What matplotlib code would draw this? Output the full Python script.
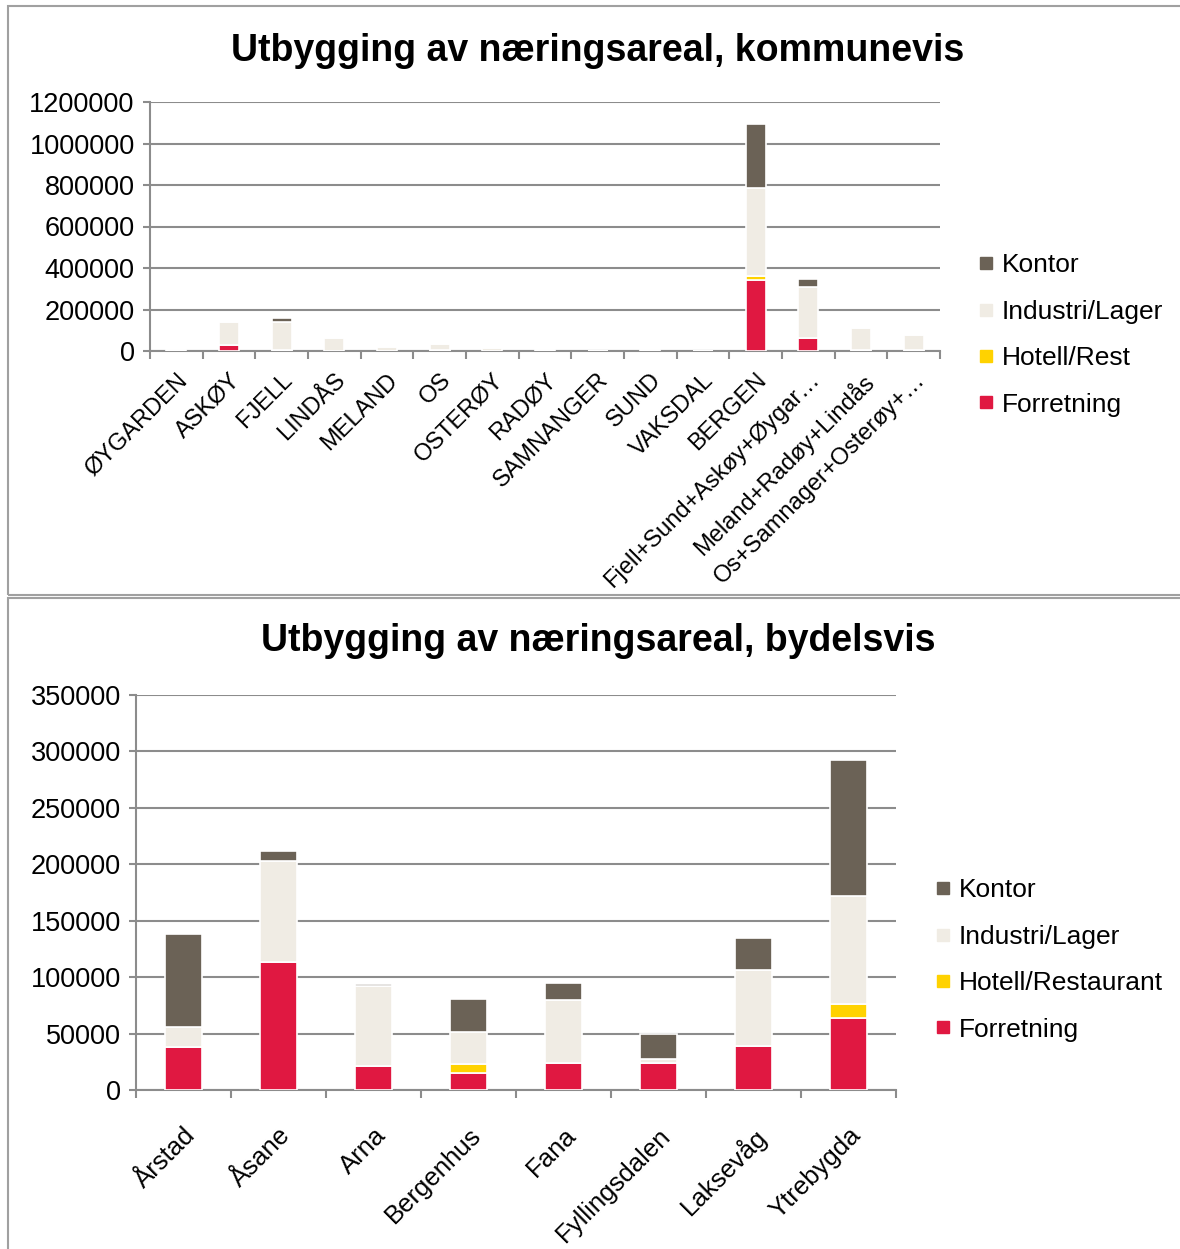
import numpy as np
import matplotlib
matplotlib.use("Agg")
import matplotlib.pyplot as plt
from matplotlib.patches import Rectangle
from matplotlib.lines import Line2D

plt.rcParams['font.family'] = ['Liberation Sans', 'DejaVu Sans']

# --- data: kommunevis ---
kommuner = ['ØYGARDEN', 'ASKØY', 'FJELL', 'LINDÅS', 'MELAND', 'OS', 'OSTERØY',
            'RADØY', 'SAMNANGER', 'SUND', 'VAKSDAL', 'BERGEN',
            'Fjell+Sund+Askøy+Øygar…', 'Meland+Radøy+Lindås', 'Os+Samnager+Osterøy+…']
forretning_k = [1000, 28000, 6000, 2000, 1000, 4000, 1000, 500, 300, 1000, 300, 340000, 61000, 7000, 6000]
hotell_k = [0, 0, 0, 0, 0, 0, 0, 0, 0, 0, 0, 20000, 0, 0, 0]
industri_k = [3000, 110000, 132000, 60000, 16000, 31000, 15000, 3000, 2000, 5000, 2000, 425000, 249000, 105000, 69000]
kontor_k = [0, 0, 21000, 3000, 0, 0, 0, 0, 0, 0, 0, 309000, 37000, 4000, 0]

# --- data: bydelsvis ---
bydeler = ['Årstad', 'Åsane', 'Arna', 'Bergenhus', 'Fana', 'Fyllingsdalen', 'Laksevåg', 'Ytrebygda']
forretning_b = [38000, 113000, 21500, 15000, 24000, 23500, 39000, 63500]
hotell_b = [0, 0, 0, 8000, 0, 0, 0, 12500]
industri_b = [18000, 90000, 71000, 28000, 56000, 4000, 67000, 96000]
kontor_b = [82000, 9000, 1500, 30000, 14500, 22000, 29000, 120000]

C_KONTOR = '#6b6256'
C_IND = '#f0ece4'
C_HOT = '#ffd200'
C_FORR = '#e01841'
GRID = '#8c8c8c'

W, H = 1180, 1249
fig = plt.figure(figsize=(W / 100, H / 100), dpi=100)

# panel borders
for (y0, y1) in [(6, 595), (598, 1258)]:
    fig.add_artist(Rectangle((8 / W, 1 - y1 / H), (1190 - 8) / W, (y1 - y0) / H,
                             transform=fig.transFigure, fill=False,
                             edgecolor='#a0a0a0', linewidth=1.5))


def draw_panel(rect, cats, series, ymax, ystep, lab_pad, lab_size, hotell_label,
               title, title_y, legend_xy):
    ax = fig.add_axes(rect)
    x = np.arange(len(cats))
    bottom = np.zeros(len(cats))
    colors = [C_FORR, C_HOT, C_IND, C_KONTOR]
    for vals, col in zip(series, colors):
        ax.bar(x, vals, 0.38, bottom=bottom, color=col, edgecolor='white',
               linewidth=1.2, zorder=3)
        bottom += np.array(vals)
    ax.set_xlim(-0.5, len(cats) - 0.5)
    ax.set_ylim(0, ymax)
    ax.set_yticks(np.arange(0, ymax + 1, ystep))
    ax.yaxis.grid(True, color=GRID, linewidth=1.5, zorder=0)
    for s in ['top', 'right']:
        ax.spines[s].set_visible(False)
    for s in ['left', 'bottom']:
        ax.spines[s].set_color(GRID)
        ax.spines[s].set_linewidth(1.5)
    ax.tick_params(axis='y', length=5, width=1.5, color=GRID, labelsize=19.5, pad=6)
    ax.set_xticks(x)
    ax.set_xticks(np.arange(-0.5, len(cats)), minor=True)
    ax.tick_params(axis='x', which='major', length=0, pad=lab_pad)
    ax.tick_params(axis='x', which='minor', length=6, width=1.5, color=GRID)
    ax.set_xticklabels(cats, rotation=45, ha='right', va='top',
                       rotation_mode='anchor', fontsize=lab_size)
    ax.ticklabel_format(axis='y', style='plain')
    fig.text(598 / W, 1 - title_y / H, title, ha='center', va='center',
             fontsize=27, fontweight='bold')
    labels = ['Kontor', 'Industri/Lager', hotell_label, 'Forretning']
    handles = [Line2D([], [], marker='s', linestyle='none', markersize=8,
                      markerfacecolor=c, markeredgecolor=c)
               for c in [C_KONTOR, C_IND, C_HOT, C_FORR]]
    fig.legend(handles, labels, loc='center left',
               bbox_to_anchor=(legend_xy[0] / W, 1 - legend_xy[1] / H),
               frameon=False, fontsize=19, labelspacing=0.85,
               handlelength=0.6, handletextpad=0.3, borderpad=0)
    return ax


draw_panel([150 / W, 1 - 351 / H, 790 / W, 249 / H], kommuner,
           [forretning_k, hotell_k, industri_k, kontor_k], 1200000, 200000,
           13, 17, 'Hotell/Rest', 'Utbygging av næringsareal, kommunevis', 51,
           (965, 335))

draw_panel([136 / W, 1 - 1090 / H, 760 / W, 395 / H], bydeler,
           [forretning_b, hotell_b, industri_b, kontor_b], 350000, 50000,
           24, 18.5, 'Hotell/Restaurant', 'Utbygging av næringsareal, bydelsvis', 641,
           (922, 960))

fig.savefig('out.png', dpi=100)
